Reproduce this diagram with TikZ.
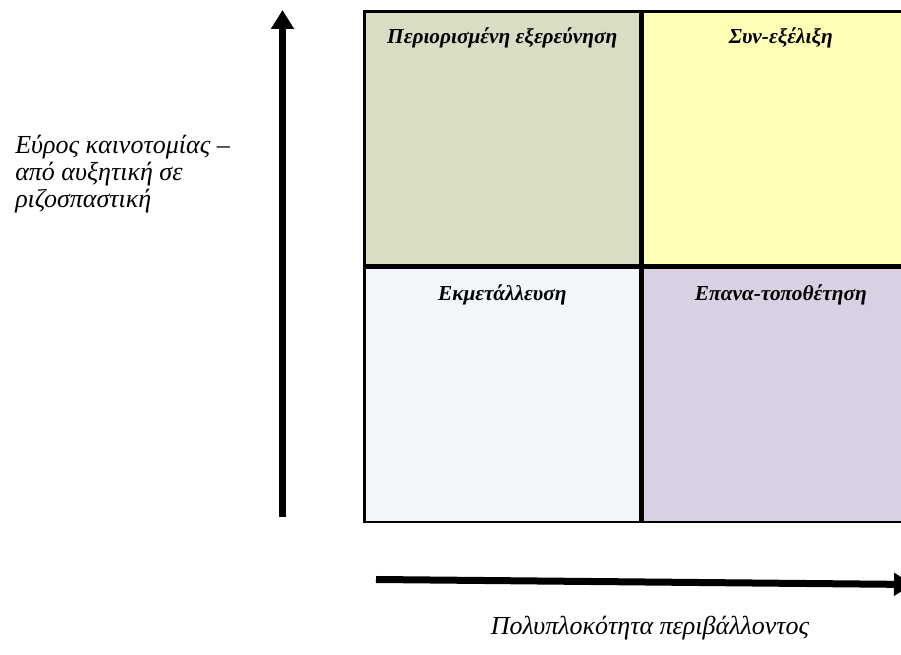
\documentclass[tikz,border=0pt]{standalone}
\usepackage{fontspec}
\setmainfont{Liberation Serif}
\usetikzlibrary{arrows.meta,positioning}
\definecolor{exploreFill}{RGB}{215,222,196}
\definecolor{coevoFill}{RGB}{255,255,181}
\definecolor{exploitFill}{RGB}{242,245,249}
\definecolor{reposFill}{RGB}{217,209,227}

\begin{document}
\begin{tikzpicture}[
  x=0.75pt, y=-0.75pt,
  cell/.style={rectangle, draw, line width=1.9pt, inner sep=0pt,
    minimum width=207pt, minimum height=190.5pt},
  title/.style={anchor=base, inner sep=0pt,
    font=\fontsize{16}{19}\selectfont\bfseries\itshape},
  axislabel/.style={inner sep=0pt, font=\fontsize{19.5}{20.6}\selectfont\itshape},
  axis/.style={line width=5.25pt, -{Triangle[width=16.5pt, length=14.25pt]}}
]
\useasboundingbox (0,0) rectangle (901,655);

% Quadrants
\node[cell, fill=exploreFill, anchor=north west] (explore) at (363,10) {};
\node[cell, fill=coevoFill, right=0pt of explore] (coevo) {};
\node[cell, fill=exploitFill, below=0pt of explore] (exploit) {};
\node[cell, fill=reposFill, right=0pt of exploit] (repos) {};

\node[title] (exploreT) at ([yshift=-25.5pt]explore.north) {Περιορισμένη εξερεύνηση};
\node[title] (coevoT) at ([yshift=-25.5pt]coevo.north) {Συν-εξέλιξη};
\node[title] (exploitT) at ([yshift=-25.5pt]exploit.north) {Εκμετάλλευση};
\node[title] (reposT) at ([yshift=-25.5pt]repos.north) {Επανα-τοποθέτηση};

% Axes
\coordinate (ybot) at (282.5,517);
\coordinate (ytop) at (282.5,10);
\coordinate (xleft) at (376,579.5);
\coordinate (xright) at (913,584.5);
\draw[axis] (ybot) -- (ytop);
\draw[axis] (xleft) -- (xright);

\node[axislabel, align=left, anchor=base west] (scope) at (15,208)
  {Εύρος καινοτομίας –\\από αυξητική σε\\ριζοσπαστική};
\node[axislabel, anchor=base] (complexity) at (650,635) {Πολυπλοκότητα περιβάλλοντος};

\end{tikzpicture}
\end{document}
